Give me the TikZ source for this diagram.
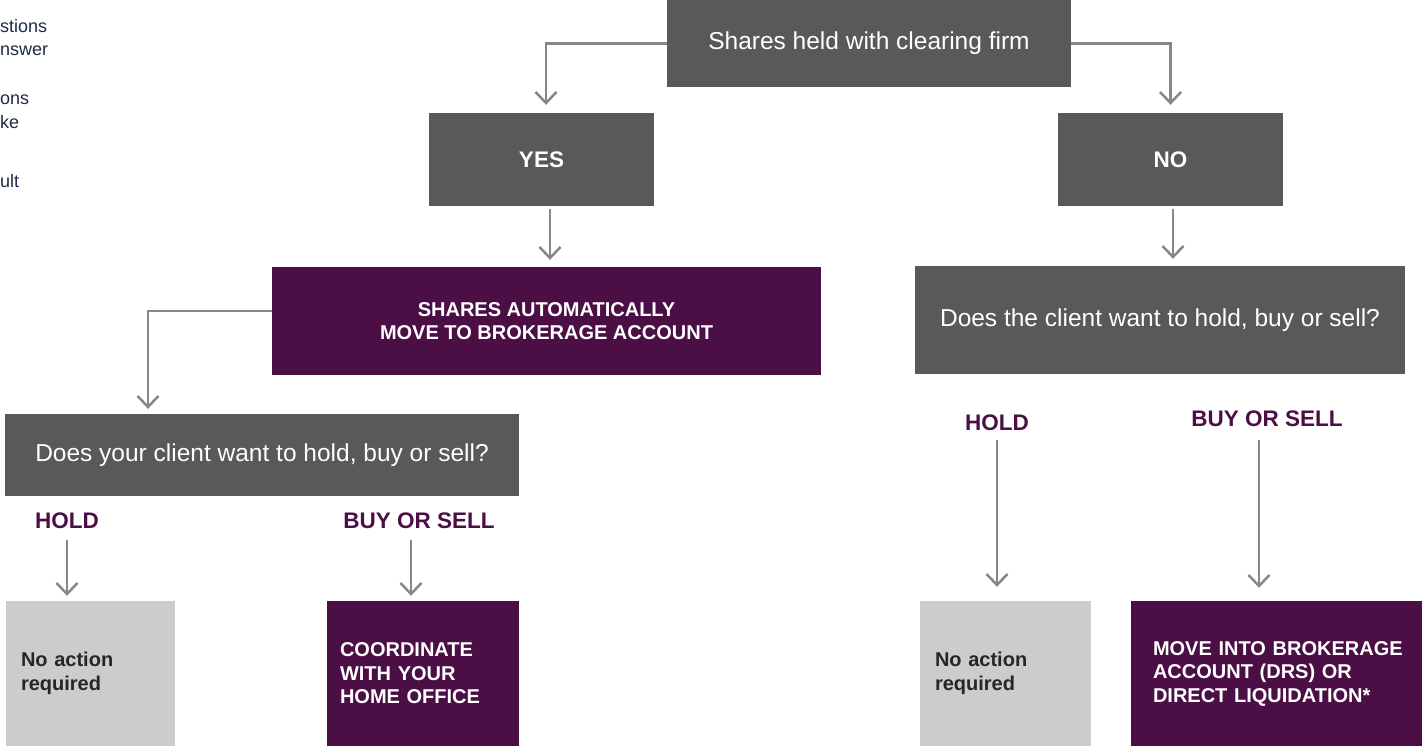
\documentclass[tikz,border=0pt]{standalone}
\usepackage{fontspec}
\setmainfont{Liberation Sans}
\usetikzlibrary{arrows.meta}

\definecolor{boxgrey}{HTML}{595959}
\definecolor{plum}{HTML}{4B0F45}
\definecolor{pale}{HTML}{CCCCCC}
\definecolor{linegrey}{HTML}{878787}
\definecolor{inkblue}{HTML}{1F2A44}
\definecolor{darktext}{HTML}{262626}

\begin{document}
\begin{tikzpicture}[x = 1pt, y = -1pt,
    every node/.style = {inner sep = 0pt},
    greybox/.style = {fill = boxgrey, text = white, font = \fontsize{24.5}{28}\selectfont},
    plumbox/.style = {fill = plum, text = white, font = \bfseries\fontsize{20}{23.5}\selectfont},
    palebox/.style = {fill = pale, text = darktext, font = \bfseries\fontsize{20}{24}\selectfont},
    choice/.style = {text = plum, font = \bfseries\fontsize{22.5}{26}\selectfont},
    arr/.style = {draw = linegrey, line width = 2.5pt, -{Straight Barb[length = 11pt, width = 21pt]}}]

        \useasboundingbox (0, 0) rectangle (1422, 746);

        \foreach \ypos/\frag in {33/stions, 56/nswer, 105/ons, 129/ke, 188/ult}
            \node (frag\ypos) at (0, \ypos) [anchor = base west, text = inkblue, font = \fontsize{18}{23}\selectfont] {\frag};

        \node (top) at (869, 43.5) [greybox, minimum width = 404pt, minimum height = 87pt] {Shares held with clearing firm};

        \node (yes) at (541.5, 159.5) [greybox, font = \bfseries\fontsize{22.5}{26}\selectfont, minimum width = 225pt, minimum height = 93pt] {YES};
        \node (no) at (1170.5, 159.5) [greybox, font = \bfseries\fontsize{22.5}{26}\selectfont, minimum width = 225pt, minimum height = 93pt] {NO};

        \node (auto) at (546.5, 321) [plumbox, align = center, minimum width = 549pt, minimum height = 108pt] {SHARES AUTOMATICALLY\\MOVE TO BROKERAGE ACCOUNT};
        \node (askthe) at (1160, 320) [greybox, minimum width = 490pt, minimum height = 108pt] {Does the client want to hold, buy or sell?};
        \node (askyour) at (262, 455) [greybox, minimum width = 514pt, minimum height = 82pt] {Does your client want to hold, buy or sell?};

        \node (holdL) at (67, 521) [choice] {HOLD};
        \node (buyL) at (419, 521) [choice] {BUY OR SELL};
        \node (holdR) at (997, 423) [choice] {HOLD};
        \node (buyR) at (1267, 419) [choice] {BUY OR SELL};

        \node (noactL) at (90.5, 673.5) [palebox, align = left, inner xsep = 15pt, text width = 139pt, minimum height = 145pt] {No action\\required};
        \node (coordL) at (423, 673.5) [plumbox, align = left, inner xsep = 13pt, text width = 166pt, minimum height = 145pt] {COORDINATE\\WITH YOUR\\HOME OFFICE};
        \node (noactR) at (1005.5, 673.5) [palebox, align = left, inner xsep = 15pt, text width = 141pt, minimum height = 145pt] {No action\\required};
        \node (moveR) at (1276.5, 673.5) [plumbox, align = left, inner xsep = 22pt, text width = 247pt, minimum height = 145pt] {\mbox{MOVE INTO BROKERAGE}\\ACCOUNT (DRS) OR\\DIRECT LIQUIDATION*};

        \draw [arr, shorten >= 8pt] (top.west) -| ([xshift = 4.5pt]yes.north);
        \draw [arr, shorten >= 8pt] (top.east) -| (no.north);

        \coordinate (ydrop) at ([xshift = 8.5pt, yshift = -3pt]yes.south);
        \draw [arr, shorten >= 7pt] (ydrop) -- (ydrop |- auto.north);
        \coordinate (ndrop) at ([xshift = 2.5pt, yshift = -3pt]no.south);
        \draw [arr, shorten >= 7pt] (ndrop) -- (ndrop |- askthe.north);

        \draw [arr, shorten >= 5pt] ([yshift = 10pt]auto.west) -| ([xshift = -114pt]askyour.north);

        \draw [arr, shorten <= 11pt, shorten >= 5pt] (holdL.south) -- (holdL.south |- noactL.north);
        \coordinate (bldrop) at ([xshift = -8pt]buyL.south);
        \draw [arr, shorten <= 11pt, shorten >= 5pt] (bldrop) -- (bldrop |- coordL.north);

        \draw [arr, shorten <= 9pt, shorten >= 14pt] (holdR.south) -- (holdR.south |- noactR.north);
        \coordinate (brdrop) at ([xshift = -8pt]buyR.south);
        \draw [arr, shorten <= 13pt, shorten >= 13pt] (brdrop) -- (brdrop |- moveR.north);

    \end{tikzpicture}
\end{document}
